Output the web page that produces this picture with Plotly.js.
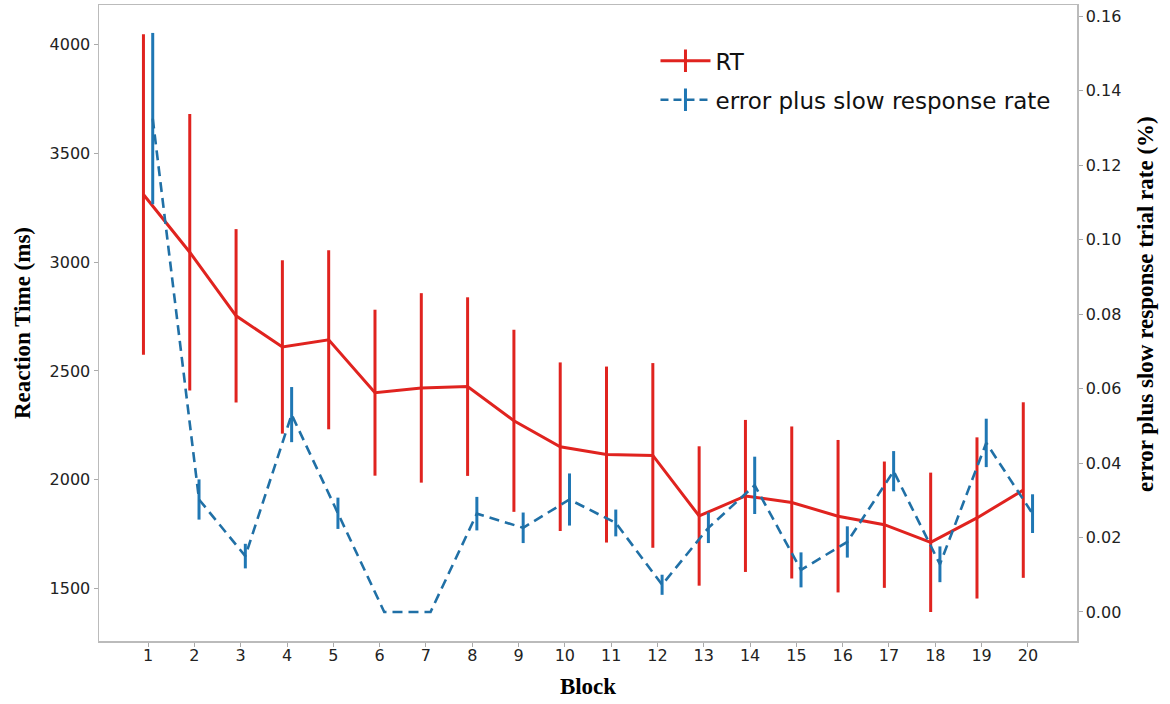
<!DOCTYPE html>
<html>
<head>
<meta charset="utf-8">
<script src="https://cdn.plot.ly/plotly-3.0.1.min.js"></script>
<style>
  html, body { margin: 0; padding: 0; background: #fff; }
  #chart { width: 1170px; height: 704px; }
</style>
</head>
<body>
<div id="chart"></div>
<script>
// blocks 1..20
var blocks = [1, 2, 3, 4, 5, 6, 7, 8, 9, 10, 11, 12, 13, 14, 15, 16, 17, 18, 19, 20];

// reaction time (ms), mean and error bar half-length
var rtMean = [3310, 3045, 2753, 2610, 2643, 2400, 2422, 2428, 2271, 2152,
              2116, 2112, 1834, 1926, 1896, 1833, 1794, 1713, 1825, 1953];
var rtErr  = [736, 635, 398, 398, 411, 381, 435, 410, 418, 387,
              404, 424, 320, 349, 349, 350, 290, 320, 370, 403];

// error plus slow response trial rate
var rateMean = [0.1325, 0.0302, 0.0150, 0.0530, 0.0265, 0.0000, 0.0000, 0.0264, 0.0226, 0.0302,
                0.0239, 0.0073, 0.0226, 0.0340, 0.0113, 0.0188, 0.0378, 0.0128, 0.0454, 0.0264];
var rateErr  = [0.0230, 0.0054, 0.0033, 0.0074, 0.0042, 0, 0, 0.0045, 0.0041, 0.0070,
                0.0036, 0.0027, 0.0041, 0.0077, 0.0047, 0.0042, 0.0054, 0.0048, 0.0065, 0.0052];

var rtColor = '#e0231f';
var rateColor = '#2070a6';
var shift = 0.1;

var rtTrace = {
    type: 'scatter',
    mode: 'lines',
    x: blocks.map(function (b) { return b - shift; }),
    y: rtMean,
    line: { color: rtColor, width: 3 },
    error_y: { type: 'data', array: rtErr, visible: true, color: rtColor, thickness: 3, width: 0 },
    showlegend: false,
    hoverinfo: 'skip'
};

var rateTrace = {
    type: 'scatter',
    mode: 'lines',
    x: blocks.map(function (b) { return b + shift; }),
    y: rateMean,
    yaxis: 'y2',
    line: { color: rateColor, width: 2.6, dash: '10px,6px' },
    error_y: { type: 'data', array: rateErr, visible: true, color: '#1f77b4', thickness: 3, width: 0 },
    showlegend: false,
    hoverinfo: 'skip'
};

// legend entries only (line with a vertical tick, like an errorbar handle)
var rtLegend = {
    type: 'scatter', mode: 'lines+markers', x: [null], y: [null],
    name: 'RT', legendgroup: 'a',
    line: { color: rtColor, width: 3 },
    marker: { symbol: 'line-ns-open', size: 22, color: rtColor, line: { color: rtColor, width: 3 } }
};
var rateLegend = {
    type: 'scatter', mode: 'lines+markers', x: [null], y: [null], yaxis: 'y2',
    name: 'error plus slow response rate', legendgroup: 'b',
    line: { color: rateColor, width: 2.6, dash: '8px,5px' },
    marker: { symbol: 'line-ns-open', size: 22, color: '#1f77b4', line: { color: '#1f77b4', width: 3 } }
};

var tickFont = { family: 'DejaVu Sans', size: 16, color: '#222' };
var titleFont = { family: 'Liberation Serif', size: 23, color: '#000', weight: 'bold' };

var layout = {
    width: 1170,
    height: 704,
    margin: { l: 99, r: 93, t: 5, b: 63 },
    paper_bgcolor: '#fff',
    plot_bgcolor: '#fff',
    showlegend: true,
    legend: {
        x: 0.5690, y: 0.946, xanchor: 'left', yanchor: 'top',
        font: { family: 'DejaVu Sans', size: 23, color: '#111' },
        bgcolor: 'rgba(0,0,0,0)',
        tracegroupgap: 6,
        itemwidth: 50
    },
    xaxis: {
        range: [-0.06, 21.06],
        tickmode: 'array',
        tickvals: blocks,
        ticktext: blocks.map(String),
        tickfont: tickFont,
        ticks: 'outside', ticklen: 4, tickcolor: '#aaa', tickwidth: 1,
        ticklabelstandoff: -5,
        showgrid: false, zeroline: false,
        showline: true, linecolor: '#bbb', linewidth: 1.5, mirror: true,
        title: { text: 'Block', font: titleFont, standoff: 14 }
    },
    yaxis: {
        range: [1260, 4180],
        tickvals: [1500, 2000, 2500, 3000, 3500, 4000],
        tickfont: tickFont,
        ticks: 'outside', ticklen: 4, tickcolor: '#aaa', tickwidth: 1,
        showgrid: false, zeroline: false,
        showline: true, linecolor: '#bbb', linewidth: 1.5,
        title: { text: 'Reaction Time (ms)', font: titleFont, standoff: 12 }
    },
    yaxis2: {
        overlaying: 'y',
        side: 'right',
        range: [-0.0078, 0.163],
        tickvals: [0, 0.02, 0.04, 0.06, 0.08, 0.10, 0.12, 0.14, 0.16],
        tickformat: '.2f',
        tickfont: tickFont,
        ticks: 'outside', ticklen: 4, tickcolor: '#aaa', tickwidth: 1,
        showgrid: false, zeroline: false,
        showline: true, linecolor: '#bbb', linewidth: 1.5
    },
    annotations: [{
        text: 'error plus slow response trial rate (%)',
        font: titleFont,
        textangle: -90,
        xref: 'paper', yref: 'paper',
        x: 1.0, xshift: 69, y: 0.53,
        xanchor: 'center', yanchor: 'middle',
        showarrow: false
    }]
};

Plotly.newPlot('chart', [rtTrace, rateTrace, rtLegend, rateLegend], layout, { displayModeBar: false, staticPlot: true });
</script>
</body>
</html>
